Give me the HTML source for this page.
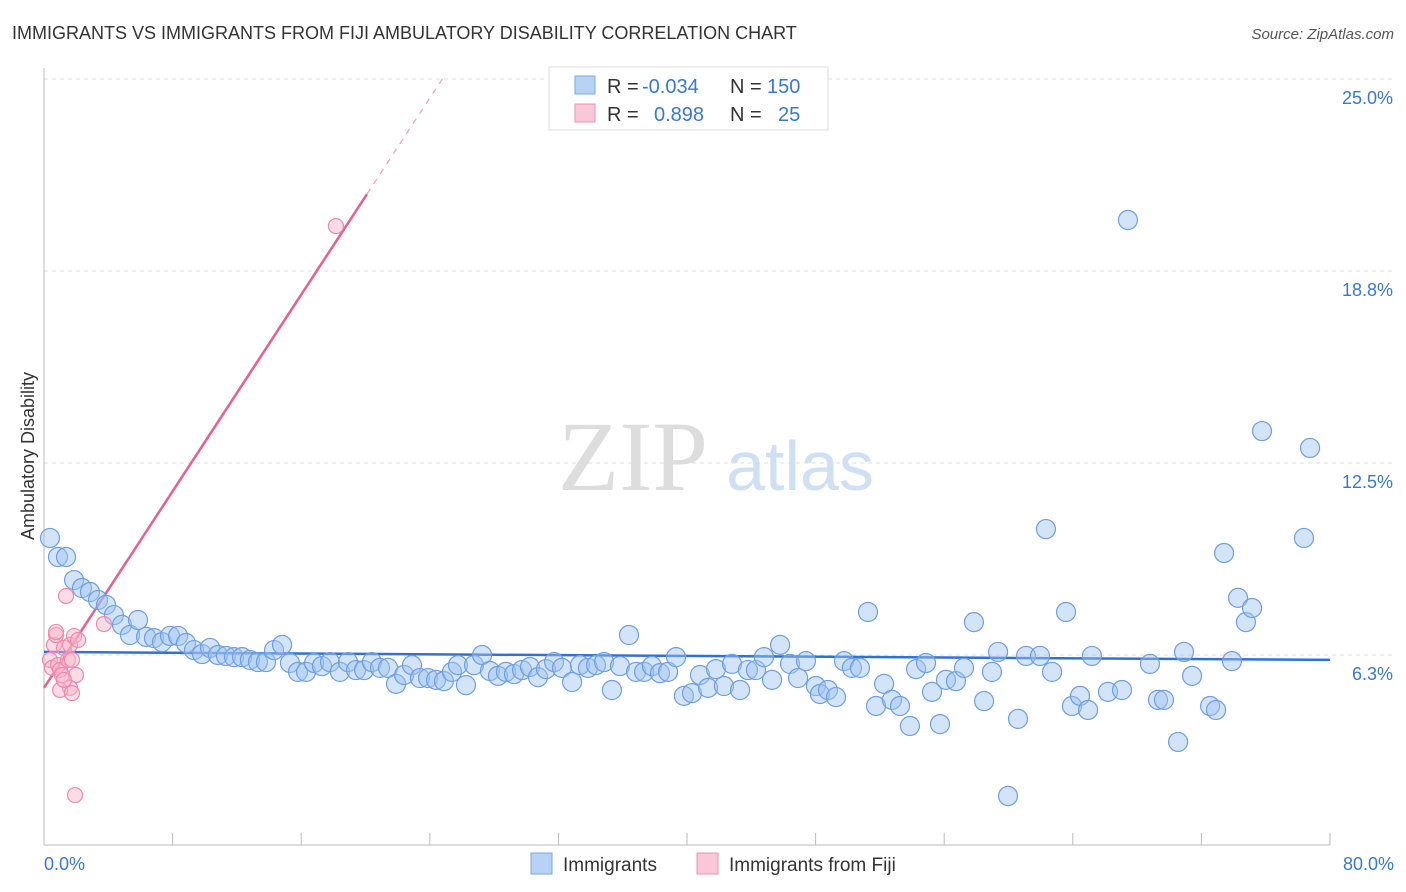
<!DOCTYPE html>
<html><head><meta charset="utf-8"><style>
body{margin:0;background:#fff;font-family:"Liberation Sans",sans-serif;}
#wrap{position:relative;width:1406px;height:892px;overflow:hidden}
</style></head><body><div id="wrap">
<svg id="svg" width="1406" height="892" xmlns="http://www.w3.org/2000/svg">
<text x="12" y="39" font-size="18" fill="#333">IMMIGRANTS VS IMMIGRANTS FROM FIJI AMBULATORY DISABILITY CORRELATION CHART</text>
<text x="1394" y="39" font-size="15" fill="#555" font-style="italic" text-anchor="end">Source: ZipAtlas.com</text>
<text x="633" y="490" font-size="100" fill="#ddd" font-family="Liberation Serif,serif" text-anchor="middle">ZIP</text>
<text x="800" y="490" font-size="70" fill="#cfe0f5" text-anchor="middle">atlas</text>
<text transform="translate(34,456) rotate(-90)" font-size="18" fill="#333" text-anchor="middle">Ambulatory Disability</text>
<g id="grid"></g><g id="ticks"></g><g id="trend"></g><g id="pts"></g>
<g>
<rect x="549" y="67" width="279" height="63" fill="#fff" stroke="#ddd"/>
<rect x="575" y="76" width="20" height="18" fill="#b8d2f5" stroke="#7aa8e0"/>
<rect x="575" y="104" width="20" height="18" fill="#f9c8d8" stroke="#f090b0"/>
<text y="93" font-size="20" fill="#333"><tspan x="607">R =</tspan><tspan x="642" fill="#3a78d0">-0.034</tspan><tspan x="730">N =</tspan><tspan x="767" fill="#3a78d0">150</tspan></text>
<text y="121" font-size="20" fill="#333"><tspan x="607">R =</tspan><tspan x="654" fill="#3a78d0">0.898</tspan><tspan x="730">N =</tspan><tspan x="778" fill="#3a78d0">25</tspan></text>
</g>
<g>
<rect x="531" y="853" width="21" height="21" fill="#b8d2f5" stroke="#7aa8e0"/>
<text x="563" y="871" font-size="19" fill="#333">Immigrants</text>
<rect x="697" y="853" width="21" height="21" fill="#f9c8d8" stroke="#f090b0"/>
<text x="729" y="871" font-size="19" fill="#333">Immigrants from Fiji</text>
</g>
<text x="44" y="870" font-size="18" fill="#3a78d0">0.0%</text>
<text x="1394" y="870" font-size="18" fill="#3a78d0" text-anchor="end">80.0%</text>
</svg></div>
<script>
const blueX=[.37,.87,1.37,1.87,2.36,2.86,3.36,3.86,4.35,4.85,5.35,5.85,6.35,6.84,7.34,7.84,8.34,8.83,9.33,9.83,10.33,10.82,11.32,11.82,12.32,12.81,13.31,13.81,14.31,14.81,15.30,15.80,16.30,16.80,17.29,17.79,18.41,18.91,19.41,19.91,20.40,20.90,21.40,21.90,22.40,22.89,23.39,23.89,24.39,24.88,25.38,25.75,26.25,26.75,27.25,27.74,28.24,28.74,29.24,29.74,30.23,30.73,31.23,31.73,32.22,32.85,33.34,33.84,34.34,34.84,35.33,35.83,36.39,36.83,37.33,37.82,38.32,38.82,39.32,39.81,40.31,40.81,41.31,41.80,42.30,42.80,43.30,43.79,44.29,44.79,45.29,45.79,46.41,46.91,47.40,48.02,48.27,48.77,49.27,49.77,50.26,50.76,51.26,51.76,52.26,52.75,53.25,53.87,54.25,54.87,55.24,55.74,56.11,56.73,57.23,57.85,58.48,58.97,59.35,59.97,60.59,61.09,61.96,62.33,62.71,63.58,63.95,64.45,64.95,65.19,66.19,67.06,67.43,68.80,69.30,69.67,70.55,70.92,71.42,72.54,72.91,73.41,73.90,74.28,74.77,75.15,75.77,78.38,78.76];
const blueY=[10.06,9.44,9.44,8.69,8.43,8.30,8.04,7.88,7.55,7.23,6.90,7.39,6.84,6.80,6.67,6.87,6.87,6.64,6.41,6.28,6.48,6.25,6.22,6.18,6.18,6.09,6.02,6.02,6.41,6.58,5.99,5.70,5.70,5.99,5.89,6.02,5.70,6.02,5.76,5.76,6.02,5.83,5.83,5.31,5.60,5.92,5.50,5.50,5.44,5.40,5.70,5.92,5.27,5.92,6.25,5.73,5.57,5.70,5.63,5.76,5.86,5.53,5.79,6.02,5.83,5.37,5.92,5.83,5.92,6.02,5.11,5.89,6.90,5.70,5.70,5.89,5.66,5.70,6.18,4.92,5.01,5.60,5.18,5.79,5.24,5.96,5.11,5.76,5.76,6.18,5.44,6.58,5.96,5.50,6.05,5.24,4.98,5.11,4.88,6.05,5.83,5.83,7.65,4.59,5.31,4.79,4.59,3.94,5.79,5.99,5.05,4.00,5.44,5.40,5.83,7.32,4.75,5.70,6.35,1.66,4.17,6.22,6.22,10.35,5.70,7.65,4.59,4.92,4.46,6.22,5.05,5.11,20.41,5.96,4.79,4.79,3.42,6.35,5.57,4.59,4.46,9.57,6.05,8.11,7.32,7.78,13.54,10.06,12.99];
const pinkX=[.37,.50,.62,.75,.87,1.00,1.12,1.24,1.37,1.49,1.62,1.74,1.87,1.99,2.12,1.62,1.00,1.24,1.74,3.73,18.16,1.93,.75];
const pinkY=[6.09,5.83,6.58,6.90,5.92,5.76,5.60,6.48,8.17,6.09,6.58,6.09,6.87,5.60,6.74,5.18,5.11,5.44,5.01,7.26,20.21,1.69,7.00];
const yTicks=[6.25,12.5,18.75,25];
const yTickLabels=["6.3%","12.5%","18.8%","25.0%"];
const xTicks=[0,8,16,24,32,40,48,56,64,72,80];
const blueTrend=[6.35,6.09];
const pinkTrend=[5.18,0.80];
const NS="http://www.w3.org/2000/svg";
const sx=v=>44+v*1286/80, sy=v=>847-v*30.72;
function mk(tag,attrs,parent){const e=document.createElementNS(NS,tag);for(const k in attrs)e.setAttribute(k,attrs[k]);document.getElementById(parent).appendChild(e);return e;}
yTicks.forEach((t,i)=>{
 const l=mk('line',{x1:44,x2:1394,y1:sy(t),y2:sy(t),stroke:'#ddd','stroke-dasharray':'4,4'},'grid');
 
 
 const tx=mk('text',{x:1393,y:sy(t)+25,'font-size':18,fill:'#3a78d0','text-anchor':'end'},'grid');
 tx.textContent=yTickLabels[i];
 
 
});
const ax=mk('line',{x1:44,x2:44,y1:68,y2:845,stroke:'#bbb'},'ticks');


const bx=mk('line',{x1:44,x2:1330,y1:845,y2:845,stroke:'#bbb'},'ticks');


xTicks.forEach(t=>{
 const l=mk('line',{x1:sx(t),x2:sx(t),y1:833,y2:845,stroke:'#bbb'},'ticks');
 
 
});
const bt=mk('line',{x1:sx(0),x2:sx(80),y1:sy(blueTrend[0]),y2:sy(blueTrend[1]),stroke:'#2f72d6','stroke-width':2.5},'trend');


const pe=(20.09), pd=(24.9);
const pt=mk('line',{x1:sx(0),x2:sx(pe),y1:sy(pinkTrend[0]),y2:sy(pinkTrend[0]+pinkTrend[1]*pe),stroke:'#e8608e','stroke-width':2.5},'trend');


const pt2=mk('line',{x1:sx(pe),x2:sx(pd),y1:sy(pinkTrend[0]+pinkTrend[1]*pe),y2:sy(pinkTrend[0]+pinkTrend[1]*pd),stroke:'#f0a0bc','stroke-width':1.2,'stroke-dasharray':'6,6'},'trend');


blueX.forEach((x,i)=>{
 const c=mk('circle',{cx:sx(x),cy:sy(blueY[i]),r:9.5,fill:'rgba(160,195,240,0.45)',stroke:'#6e9fe0','stroke-width':1.2},'pts');
 
 
});
pinkX.forEach((x,i)=>{
 const c=mk('circle',{cx:sx(x),cy:sy(pinkY[i]),r:7.5,fill:'rgba(248,180,200,0.45)',stroke:'#ee8aae','stroke-width':1.2},'pts');
 
 
});
</script></body></html>
